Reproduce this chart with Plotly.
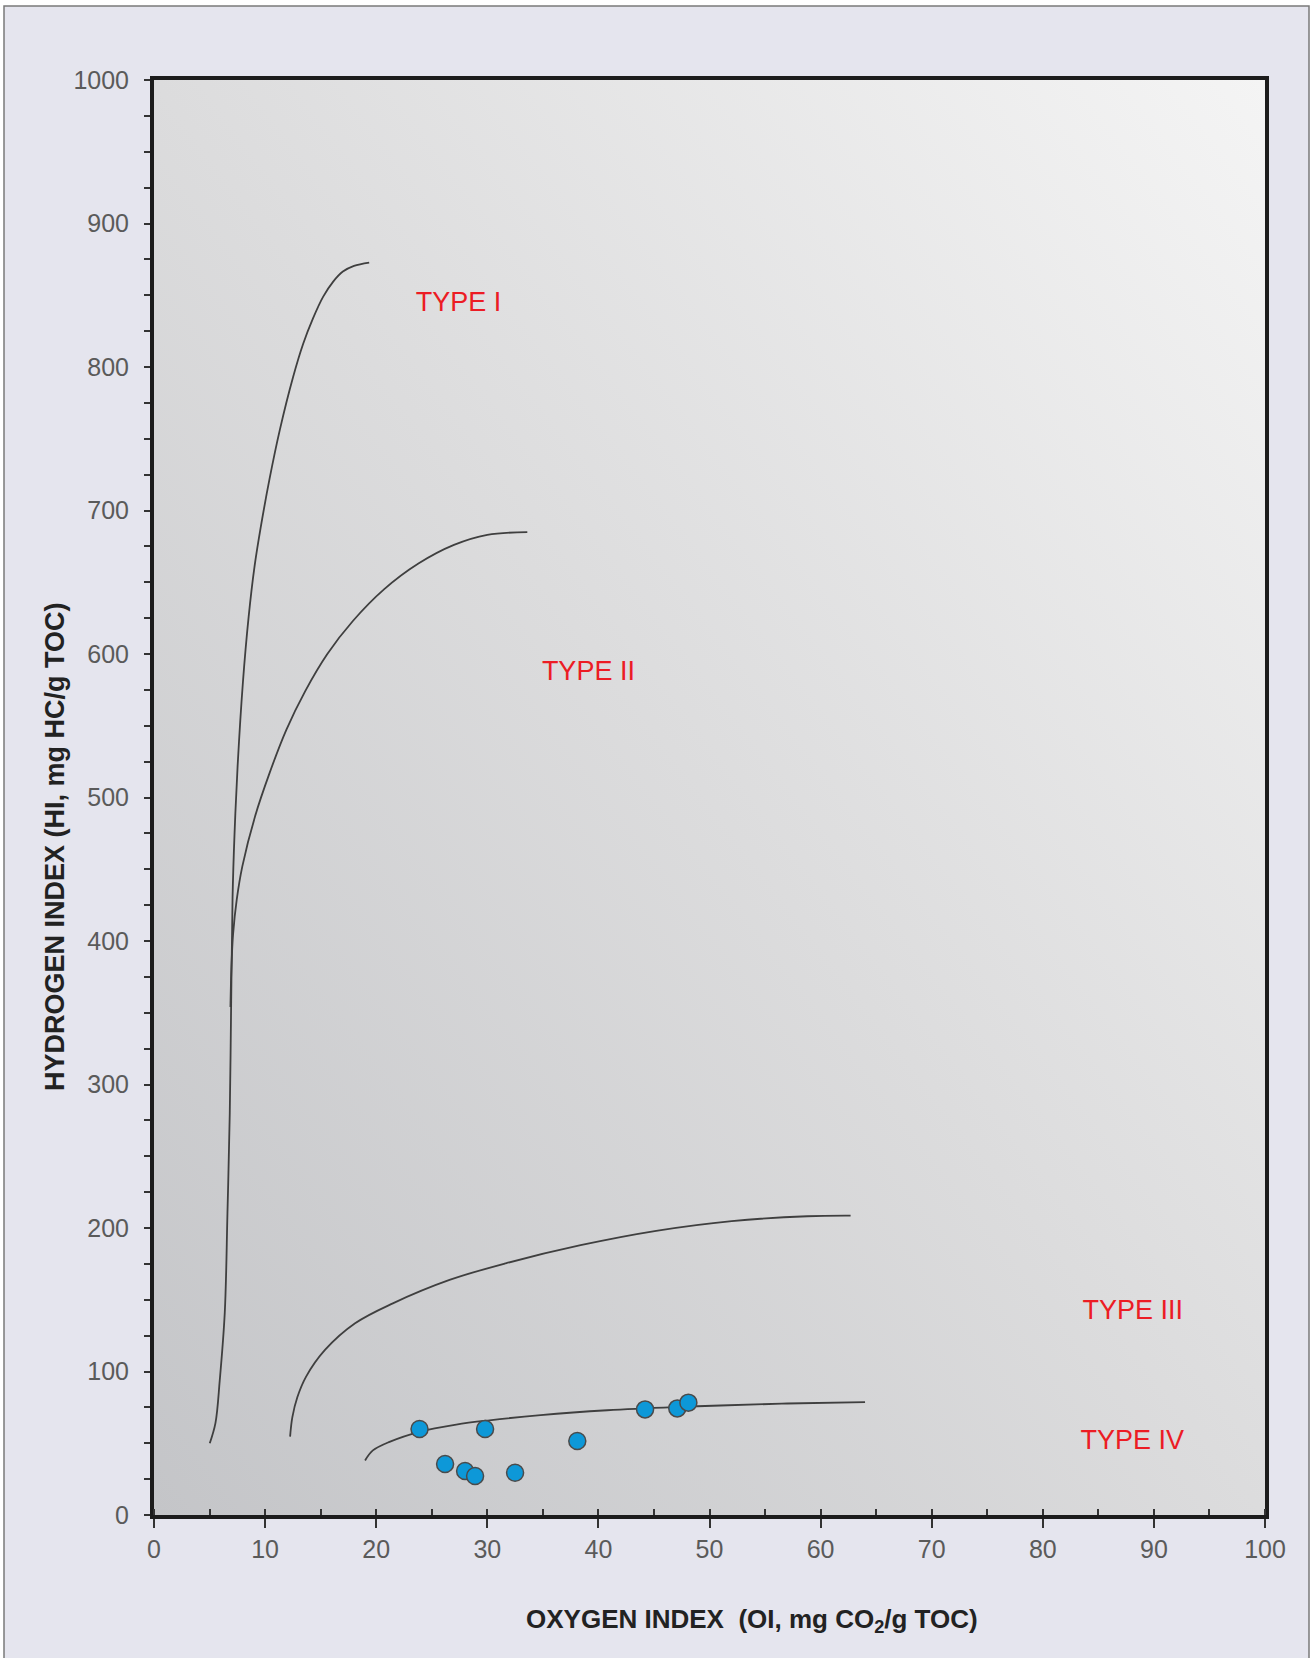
import base64
import plotly.graph_objects as go

# ---------------- data ----------------
sample_oi = [23.9, 29.8, 26.2, 28.0, 28.9, 32.5, 38.1, 44.2, 47.1, 48.1]
sample_hi = [59.9, 59.9, 35.5, 30.7, 27.2, 29.5, 51.6, 73.6, 74.3, 78.3]

type1_oi = [5.02, 5.53, 5.92, 6.37, 6.61, 6.82, 6.95, 7.07, 7.25, 7.52, 8.0,
            8.52, 9.05, 9.6, 10.4, 11.32, 12.52, 13.42, 14.32, 15.23, 16.13,
            17.0, 18.0, 19.37]
type1_hi = [50, 64, 94, 141, 210, 280, 360, 430, 475, 521, 580,
            626, 661, 688, 722, 756, 793, 816, 834, 849, 859.5,
            866.5, 870.5, 872.8]

type2_oi = [6.88, 6.97, 7.12, 7.45, 7.95, 9.1, 10.4, 11.9, 13.6, 15.6,
            17.9, 20.7, 23.8, 27.0, 30.0, 33.6]
type2_hi = [354, 382, 405, 429, 452, 487, 517, 547, 574, 600, 623, 645, 663,
            676, 683, 685]

type3_oi = [12.25, 12.45, 12.9, 13.69, 15.39, 18.1, 21.5, 26.6, 31.66, 38.4,
            45.2, 52.0, 58.8, 62.7]
type3_hi = [54.6, 68, 82, 96.4, 115, 133.6, 147.5, 163.8, 175.4, 188.0,
            198.0, 204.8, 208.2, 208.6]

type4_oi = [19.0, 19.7, 21.2, 23.9, 27.2, 30.2, 34.8, 40.8, 46.8, 51.0, 57.0, 64.0]
type4_hi = [38, 45, 51, 58, 63, 66, 69.6, 73, 75.2, 76.3, 77.7, 78.6]

type_labels = ["TYPE I", "TYPE II", "TYPE III", "TYPE IV"]
label_oi = [27.4, 39.1, 88.1, 88.05]
label_hi = [844, 586.5, 141, 50.5]

x_range = [0, 100]
y_range = [0, 1000]

# ---------------- figure ----------------
W, H = 1312, 1658
ML, MR, MT, MB = 154, 47, 80, 143
PW, PH = W - ML - MR, H - MT - MB


def px_to_paper_x(px):
    return (px - ML) / PW


def px_to_paper_y(py):
    return (H - MB - py) / PH


fig = go.Figure()

curve_style = dict(color="#3f3f3f", width=1.8, shape="spline", smoothing=1.0)
for xs, ys in [(type1_oi, type1_hi), (type2_oi, type2_hi),
               (type3_oi, type3_hi), (type4_oi, type4_hi)]:
    fig.add_trace(go.Scatter(x=xs, y=ys, mode="lines", line=curve_style,
                             hoverinfo="skip", showlegend=False))

fig.add_trace(go.Scatter(
    x=sample_oi, y=sample_hi, mode="markers",
    marker=dict(size=17, color="#0d98d8", line=dict(color="#4a4a4a", width=1.5)),
    showlegend=False))

fig.add_trace(go.Scatter(
    x=label_oi, y=label_hi, mode="text", text=type_labels,
    textfont=dict(family="Liberation Sans, Arial", size=27, color="#ec1c24"),
    textposition="middle center", hoverinfo="skip", showlegend=False))

# gradient background for plot area (svg)
svg = (
    '<svg xmlns="http://www.w3.org/2000/svg" width="100" height="100" '
    'viewBox="0 0 100 100" preserveAspectRatio="none">'
    '<defs><linearGradient id="g" x1="0" y1="1" x2="1" y2="0">'
    '<stop offset="0" stop-color="#c4c5c8"/>'
    '<stop offset="0.5" stop-color="#dcdcdd"/>'
    '<stop offset="1" stop-color="#f4f4f4"/>'
    '</linearGradient></defs>'
    '<rect x="0" y="0" width="100" height="100" fill="url(#g)"/></svg>'
)
src = "data:image/svg+xml;base64," + base64.b64encode(svg.encode()).decode()
fig.add_layout_image(dict(
    source=src, xref="x", yref="y", x=x_range[0], y=y_range[1],
    sizex=x_range[1] - x_range[0], sizey=y_range[1] - y_range[0],
    xanchor="left", yanchor="top", sizing="stretch", layer="below"))

# outer frame
fig.add_shape(type="rect", xref="paper", yref="paper",
              x0=px_to_paper_x(4), x1=px_to_paper_x(1309),
              y0=px_to_paper_y(1675), y1=px_to_paper_y(6),
              line=dict(color="#7a7a7a", width=1.5),
              fillcolor="#e5e5ee", layer="below")

tickfont = dict(family="Liberation Sans, Arial", size=25, color="#5a5a5a")
fig.update_xaxes(
    range=x_range, dtick=10, tick0=0, showgrid=False, zeroline=False,
    showline=True, linewidth=4, linecolor="#1c1c1c", mirror=True,
    ticks="outside", ticklen=9, tickwidth=1.5, tickcolor="#333",
    minor=dict(dtick=5, ticks="inside", ticklen=6, tickwidth=1.5, tickcolor="#333"),
    tickfont=tickfont, ticklabelstandoff=0)
fig.update_yaxes(
    range=y_range, dtick=100, tick0=0, showgrid=False, zeroline=False,
    showline=True, linewidth=4, linecolor="#1c1c1c", mirror=True,
    ticks="outside", ticklen=6, tickwidth=1.5, tickcolor="#333",
    minor=dict(dtick=25, ticks="outside", ticklen=6, tickwidth=1.5, tickcolor="#333"),
    tickfont=tickfont, ticklabelstandoff=10)

title_font = dict(family="Liberation Sans, Arial", size=26, color="#222", weight="bold")
fig.add_annotation(text="OXYGEN INDEX  (OI, mg CO<sub>2</sub>/g TOC)",
                   xref="paper", yref="paper",
                   x=px_to_paper_x(752), y=px_to_paper_y(1620),
                   xanchor="center", yanchor="middle", showarrow=False,
                   font=title_font)
fig.add_annotation(text="HYDROGEN INDEX (HI, mg HC/g TOC)",
                   xref="paper", yref="paper",
                   x=px_to_paper_x(55), y=px_to_paper_y(847),
                   xanchor="center", yanchor="middle", showarrow=False,
                   textangle=-90, font=dict(title_font, size=27))

fig.update_layout(
    width=W, height=H,
    margin=dict(l=ML, r=MR, t=MT, b=MB),
    paper_bgcolor="white", plot_bgcolor="rgba(0,0,0,0)",
    showlegend=False)

fig.write_html("out.html",
               config={"displayModeBar": False},
               post_script="document.body.style.margin='0px';"
                           "document.body.style.overflow='hidden';")
